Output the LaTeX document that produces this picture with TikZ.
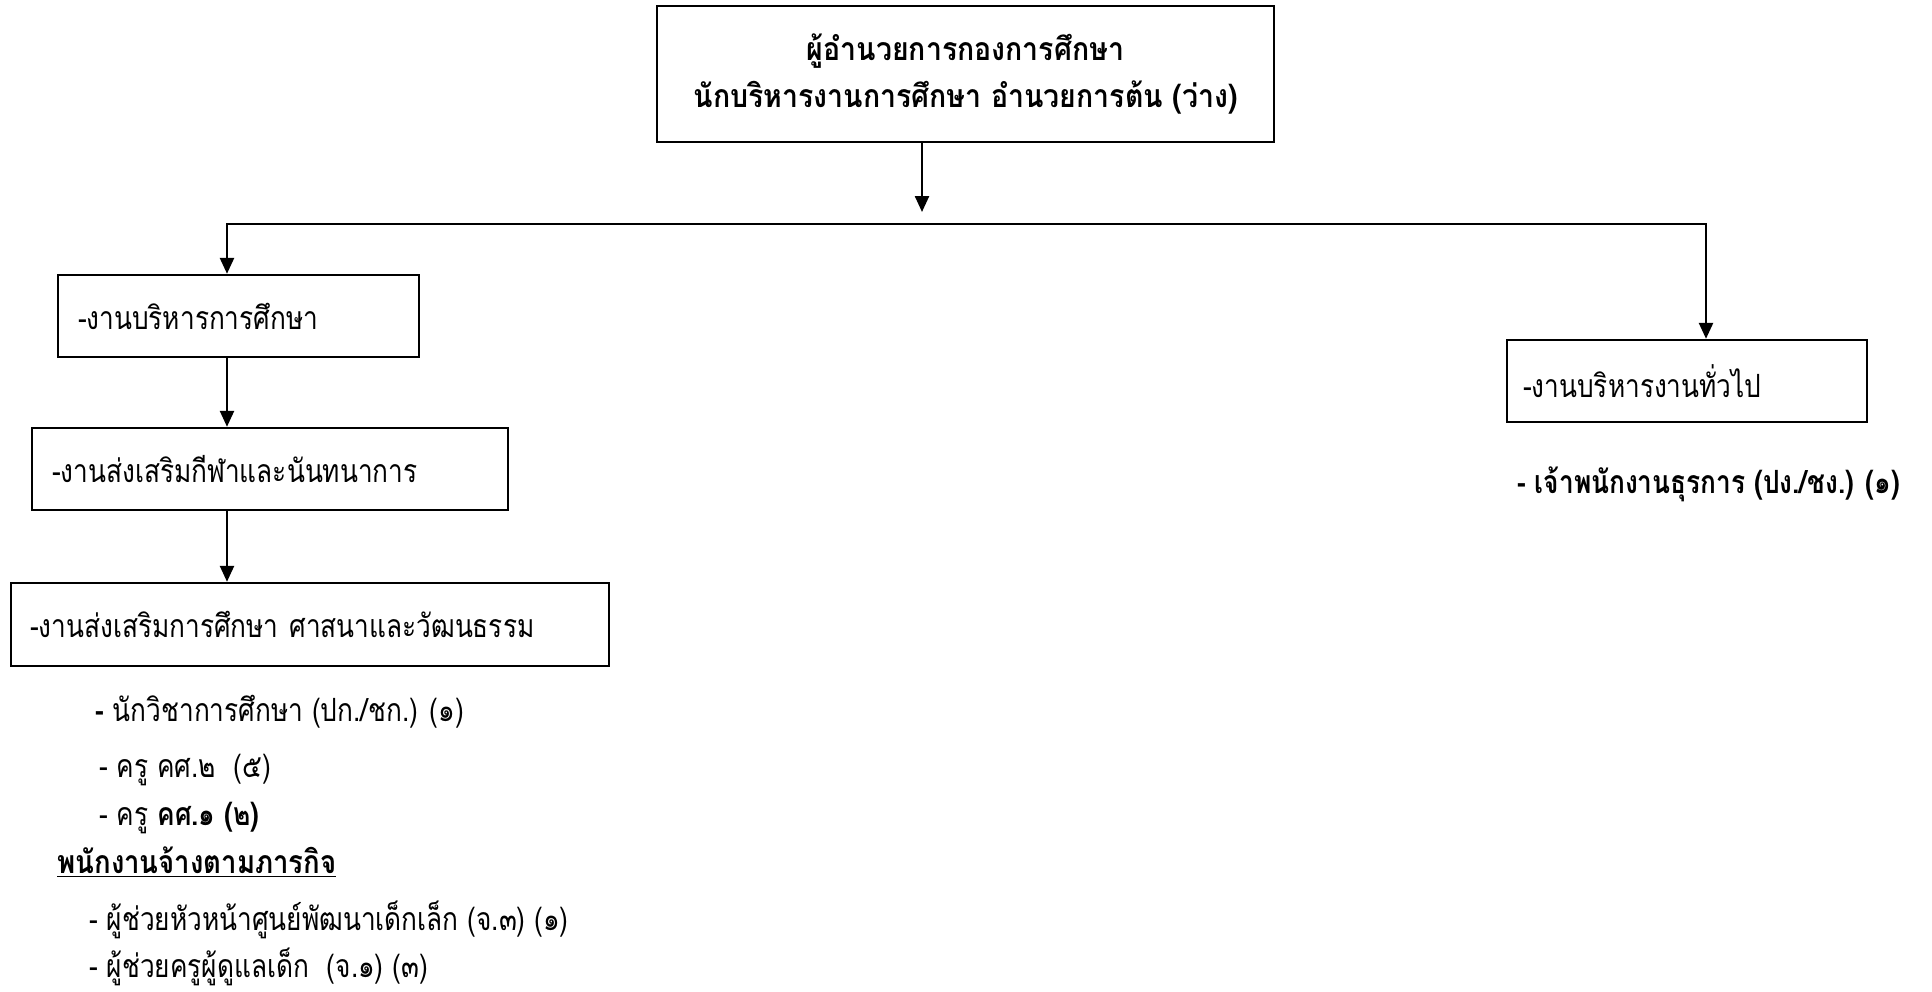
\documentclass[tikz,border=0pt]{standalone}
\usepackage{fontspec}
\newfontfamily\thai[Script=Thai, FakeStretch=0.82]{Loma}
\newfontfamily\thaitop[Script=Thai, FakeStretch=0.89]{Loma}
\newfontfamily\thaihead[Script=Thai, FakeStretch=0.86]{Loma}
\usetikzlibrary{arrows.meta}
\tikzset{
  txt/.style={font=\thai\fontsize{16}{20}\selectfont, inner sep=0pt},
  box/.style={draw, line width=1.2pt, txt, align=left, inner ysep=0pt},
  arr/.style={line width=1.2pt, -{Triangle[width=7pt,length=8pt]}},
  item/.style={txt, anchor=west}
}
\begin{document}
\begin{tikzpicture}[x=0.5pt,y=-0.5pt]
\useasboundingbox (0,0) rectangle (1932,991);
% top box
\node[draw, line width=1.2pt, inner sep=0pt, align=center, minimum width=308.5pt, minimum height=68pt, font=\thaitop\bfseries\fontsize{16}{23.5}\selectfont] (top) at (965.5,74) {ผู้อำนวยการกองการศึกษา\\นักบริหารงานการศึกษา อำนวยการต้น (ว่าง)};
% left boxes
\node[box, text width=160.5pt, inner xsep=10pt, minimum height=41pt] (b1) at (238.5,316) {\mbox{-งานบริหารการศึกษา}};
\node[box, text width=218pt, inner xsep=10pt, minimum height=41pt] (b2) at (270,469) {\mbox{-งานส่งเสริมกีฬาและนันทนาการ}};
\node[box, text width=280pt, inner xsep=9.5pt, minimum height=41.5pt] (b3) at (310,624.5) {\mbox{-งานส่งเสริมการศึกษา ศาสนาและวัฒนธรรม}};
% right box
\node[box, text width=164pt, inner xsep=8pt, minimum height=41pt] (b4) at (1687,381) {\mbox{-งานบริหารงานทั่วไป}};
% connectors
\coordinate (tipT) at (922,212);
\coordinate (jl) at (227,224);
\coordinate (jr) at (1706,224);
\draw[arr] (tipT |- top.south) -- (tipT);
\draw[line width=1.3pt, {Triangle[width=7pt,length=8pt]}-{Triangle[width=7pt,length=8pt]}] (jl |- b1.north) -- (jl) -- (jr) -- (jr |- b4.north);
\draw[arr] (jl |- b1.south) -- (jl |- b2.north);
\draw[arr] (jl |- b2.south) -- (jl |- b3.north);
% right text
\node[item, font=\thai\bfseries\fontsize{16}{20}\selectfont] (r1) at (1517,484) {- เจ้าพนักงานธุรการ (ปง./ชง.) (๑)};
% left list
\node[item] (l1) at (95,712) {{\bfseries -} นักวิชาการศึกษา (ปก./ชก.) (๑)};
\node[item] (l2) at (99,770) {- ครู คศ.๒~~(๕)};
\node[item] (l3) at (99,818) {- ครู {\bfseries คศ.๑ (๒)}};
\node[item, font=\thaihead\bfseries\fontsize{16}{20}\selectfont] (l4) at (57,862) {\underline{พนักงานจ้างตามภารกิจ}};
\node[item] (l5) at (89,920) {- ผู้ช่วยหัวหน้าศูนย์พัฒนาเด็กเล็ก (จ.๓) (๑)};
\node[item] (l6) at (89,967) {- ผู้ช่วยครูผู้ดูแลเด็ก~~(จ.๑) (๓)};
\end{tikzpicture}
\end{document}
